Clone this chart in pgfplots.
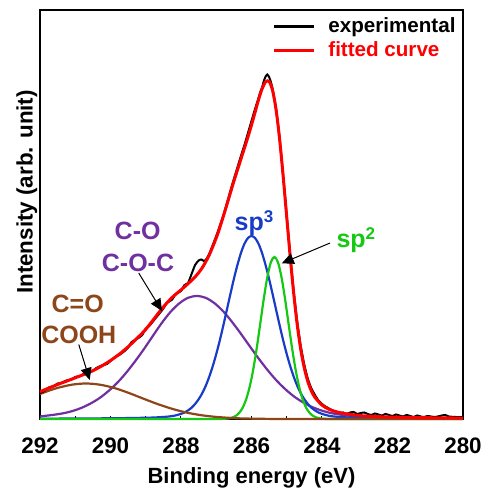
\documentclass[border=0pt]{standalone}
\usepackage{fontspec}
\setmainfont{Liberation Sans}
\usepackage{pgfplots}
\pgfplotsset{compat=1.18}
\usetikzlibrary{arrows.meta}
\definecolor{cblue}{RGB}{25,60,200}
\definecolor{cgreen}{RGB}{20,200,20}
\definecolor{cpurple}{RGB}{112,48,160}
\definecolor{cbrown}{RGB}{140,70,25}
\begin{document}
\begin{tikzpicture}
\path[use as bounding box] (-20pt,-35pt) rectangle (224.5pt,209.5pt);
\begin{axis}[
  scale only axis, width=211.5pt, height=204.5pt,
  xmin=280, xmax=292, ymin=0, ymax=409, x dir=reverse,
  clip=false,
  xtick={280,282,...,292}, minor xtick={281,283,...,291},
  ytick=\empty,
  xtick pos=left, tick align=inside,
  major tick length=1.7pt, minor tick length=1.7pt,
  every tick/.style={black, line width=0.5pt},
  axis line style={line width=0.7pt},
  /pgf/number format/assume math mode=true,
  xticklabel style={font=\fontsize{11.2}{13}\selectfont\bfseries, anchor=base, yshift=-17.15pt, inner sep=0pt},
  xlabel={Binding energy (eV)},
  ylabel={Intensity (arb. unit)},
  xlabel style={font=\fontsize{11}{13}\selectfont\bfseries, at={(axis description cs:0.5,0)}, anchor=base, yshift=-32.2pt, inner sep=0pt},
  ylabel style={font=\fontsize{11.2}{13}\selectfont\bfseries, at={(axis description cs:-0.0173,0.555)}, anchor=base, inner sep=0pt},
  legend style={draw=none, fill=none, at={(axis description cs:0.5485,0.9828)}, anchor=north west, inner sep=0pt, row sep=3.07pt, column sep=6.5pt, nodes={inner sep=0pt}, font=\fontsize{10.3}{12}\selectfont\bfseries},
  legend cell align=left,
  legend image code/.code={\draw[#1, line width=1.5pt] (0pt,0pt) -- (20pt,0pt);},
]
% C-O component
\addplot[color=cpurple, line width=1.1pt, smooth, forget plot] coordinates {
(292,2.5) (291.55,4.5) (291.3,6.0) (291.05,8.3) (290.8,11.5) (290.55,15.8) (290.3,21.2) (290.05,28.2)
(289.8,36.5) (289.55,46.5) (289.3,57.8) (289.05,70.0) (288.8,83.0) (288.55,95.8) (288.3,107.0)
(288.05,115.6) (287.8,121.2) (287.55,123.0) (287.3,121.2) (287.05,115.8) (286.8,107.6) (286.55,97.0)
(286.3,85.2) (286.05,72.8) (285.8,60.6) (285.55,49.2) (285.3,38.9) (285.05,30.1) (284.8,22.7)
(284.55,16.9) (284.3,12.3) (284.05,8.9) (283.8,6.4) (283.55,4.7) (283.05,2.6) (282.55,1.7)
(282.05,1.2) (281.55,0.95) (281,0.8) (280,0.6)};
% sp3 component
\addplot[color=cblue, line width=1.1pt, smooth, forget plot] coordinates {
(292,0.33) (291,0.47) (290,0.72) (289.5,0.94) (289,1.25) (288.8,1.45) (288.6,1.8) (288.4,2.3)
(288.2,3.2) (288.0,5.1) (287.9,6.5) (287.8,8.6) (287.7,11.3) (287.6,15.0) (287.5,19.7) (287.4,25.6)
(287.3,33.0) (287.2,42.1) (287.1,52.7) (287.0,64.9) (286.9,78.5) (286.8,93.4) (286.7,109.0)
(286.6,124.7) (286.5,140.0) (286.4,153.9) (286.3,165.9) (286.2,175.2) (286.1,181.0) (286.0,183.0)
(285.9,181.0) (285.8,175.2) (285.7,165.9) (285.6,153.9) (285.5,140.0) (285.4,124.7) (285.3,109.0)
(285.2,93.4) (285.1,78.5) (285.0,64.9) (284.9,52.7) (284.8,42.1) (284.7,33.0) (284.6,25.6)
(284.5,19.7) (284.4,15.0) (284.3,11.3) (284.2,8.6) (284.1,6.5) (284.0,5.1) (283.8,3.2) (283.6,2.3)
(283.4,1.8) (283.2,1.45) (283.0,1.25) (282.5,0.94) (282,0.72) (281,0.47) (280,0.33)};
% sp2 component
\addplot[color=cgreen, line width=1.1pt, smooth, forget plot] coordinates {
(292,0) (289,0) (287.0,0) (286.85,0.1) (286.75,0.26) (286.65,0.6) (286.55,1.4) (286.45,3.0)
(286.35,6.1) (286.25,11.3) (286.15,19.8) (286.05,32.4) (285.95,49.6) (285.85,71.2) (285.75,95.7)
(285.65,120.5) (285.55,142.0) (285.45,156.8) (285.35,162.0) (285.25,156.8) (285.15,142.0)
(285.05,120.5) (284.95,95.7) (284.85,71.2) (284.75,49.6) (284.65,32.4) (284.55,19.8) (284.45,11.3)
(284.35,6.1) (284.25,3.0) (284.15,1.4) (284.05,0.6) (283.95,0.26) (283.85,0.1) (283.7,0) (282,0) (280,0)};
% C=O component
\addplot[color=cbrown, line width=1.1pt, smooth, forget plot] coordinates {
(292,25.0) (291.7,28.9) (291.5,31.1) (291.1,34.3) (290.7,35.5) (290.3,34.3) (289.9,31.1) (289.5,26.3)
(289.1,20.8) (288.7,15.4) (288.3,10.7) (287.9,6.9) (287.5,4.2) (287.1,2.4) (286.7,1.3) (286.3,0.6)
(285.9,0.3) (285.5,0.1) (285.0,0) (283,0) (280,0)};
% experimental
\addplot[color=black, line width=1pt, smooth, tension=0.3] coordinates {
(292,26.0) (291.9,27.5) (291.75,31.5) (291.6,33.0) (291.5,35.5) (291.4,36.0) (291.25,38.5) (291.1,39.5)
(291.0,42.0) (290.85,43.0) (290.75,45.5) (290.6,47.0) (290.5,48.0) (290.4,51.0) (290.25,53.5)
(290.1,55.0) (290.0,58.0) (289.85,62.5) (289.75,64.0) (289.6,68.0) (289.5,71.5) (289.4,77.0)
(289.25,80.0) (289.1,84.0) (289.0,90.5) (288.9,93.0) (288.75,99.5) (288.6,106.0) (288.5,110.5)
(288.4,116.0) (288.25,119.5) (288.15,125.0) (288.0,128.0) (287.9,134.0) (287.8,136.0) (287.7,145.0)
(287.6,154.0) (287.5,158.5) (287.42,159.5) (287.35,158.0) (287.3,159.0) (287.2,165.0) (287.0,183.0)
(286.9,193.0) (286.8,203.5) (286.7,215.5) (286.6,228.0) (286.5,240.0) (286.4,251.5) (286.3,263.0)
(286.2,274.0) (286.1,286.0) (286.0,298.0) (285.9,310.0) (285.8,321.0) (285.75,327.0) (285.7,331.5)
(285.65,338.0) (285.6,342.5) (285.55,344.5) (285.5,342.0) (285.45,337.0) (285.4,330.0) (285.3,309.5)
(285.2,280.0) (285.1,243.0) (285.0,203.0) (284.9,163.5) (284.8,127.0) (284.7,96.5) (284.6,72.5)
(284.5,54.0) (284.4,40.0) (284.3,30.5) (284.2,24.0) (284.1,18.5) (284.0,15.0) (283.9,12.5)
(283.8,10.5) (283.7,8.5) (283.6,7.5) (283.5,6.0) (283.4,6.5) (283.3,5.0) (283.2,6.5) (283.1,7.0)
(283.0,5.0) (282.9,6.0) (282.8,6.5) (282.7,5.0) (282.6,4.0) (282.5,5.5) (282.4,4.5) (282.3,3.5)
(282.2,5.0) (282.1,4.0) (282.0,3.0) (281.9,4.5) (281.8,3.5) (281.7,2.5) (281.6,4.0) (281.5,3.0)
(281.4,2.0) (281.3,3.5) (281.2,2.5) (281.1,2.0) (281.0,3.0) (280.8,2.0) (280.6,3.5) (280.5,4.0)
(280.4,2.5) (280.2,2.0) (280.0,2.0)};
\addlegendentry{experimental}
% fitted curve
\addplot[color=red, line width=1.5pt, smooth] coordinates {
(292,27.3) (291.75,30.9) (291.5,34.5) (291.25,37.8) (291,41.2) (290.75,44.6) (290.5,48.3) (290.25,53.0)
(290,58.5) (289.75,64.8) (289.5,72.2) (289.25,80.6) (289,89.6) (288.75,100.9) (288.5,112.1)
(288.25,121.6) (288,129.1) (287.8,135.3) (287.6,142.1) (287.4,151.1) (287.2,163.9) (287.0,181.1)
(286.9,191.3) (286.8,202.5) (286.7,214.1) (286.6,225.9) (286.5,237.7) (286.4,248.8) (286.3,259.9)
(286.2,270.9) (286.1,282.1) (286.0,294.0) (285.9,306.5) (285.8,319.3) (285.7,330.1) (285.6,337.1)
(285.5,337.5) (285.4,328.2) (285.3,308.6) (285.2,279.1) (285.1,242.1) (285.0,201.7) (284.9,161.5)
(284.8,124.7) (284.7,93.6) (284.6,69.0) (284.5,50.7) (284.4,37.3) (284.3,27.9) (284.2,21.6)
(284.0,13.9) (283.8,9.7) (283.5,6.4) (283.0,3.7) (282.5,2.5) (282,1.9) (281,1.3) (280,0.9)};
\addlegendentry{\textcolor{red}{fitted curve}}
% annotations
\node[font=\fontsize{12.5}{15}\selectfont\bfseries, text=cblue, anchor=base, inner sep=0pt] at (axis cs:285.93,189) {sp\raisebox{4pt}{\fontsize{8.5}{10}\selectfont 3}};
\node[font=\fontsize{12.5}{15}\selectfont\bfseries, text=cgreen, anchor=base, inner sep=0pt] at (axis cs:283.04,171) {sp\raisebox{4pt}{\fontsize{8.5}{10}\selectfont 2}};
\node[font=\fontsize{12.5}{15}\selectfont\bfseries, text=cpurple, anchor=base, inner sep=0pt] at (axis cs:289.23,179) {C-O};
\node[font=\fontsize{12.5}{15}\selectfont\bfseries, text=cpurple, anchor=base, inner sep=0pt] at (axis cs:289.22,147.3) {C-O-C};
\node[font=\fontsize{12.5}{15}\selectfont\bfseries, text=cbrown, anchor=base, inner sep=0pt] at (axis cs:290.93,106.3) {C=O};
\node[font=\fontsize{12.5}{15}\selectfont\bfseries, text=cbrown, anchor=base, inner sep=0pt] at (axis cs:290.90,75.7) {COOH};
\draw[-{Triangle[length=6pt,width=5.5pt]}, line width=0.5pt] (axis cs:289.2,146) -- (axis cs:288.54,108);
\draw[-{Triangle[length=6pt,width=5.5pt]}, line width=0.5pt] (axis cs:290.90,74.5) -- (axis cs:290.59,39);
\draw[-{Triangle[length=6pt,width=5.5pt]}, line width=0.5pt] (axis cs:283.77,176) -- (axis cs:285.14,155.7);
\end{axis}
\end{tikzpicture}
\end{document}
